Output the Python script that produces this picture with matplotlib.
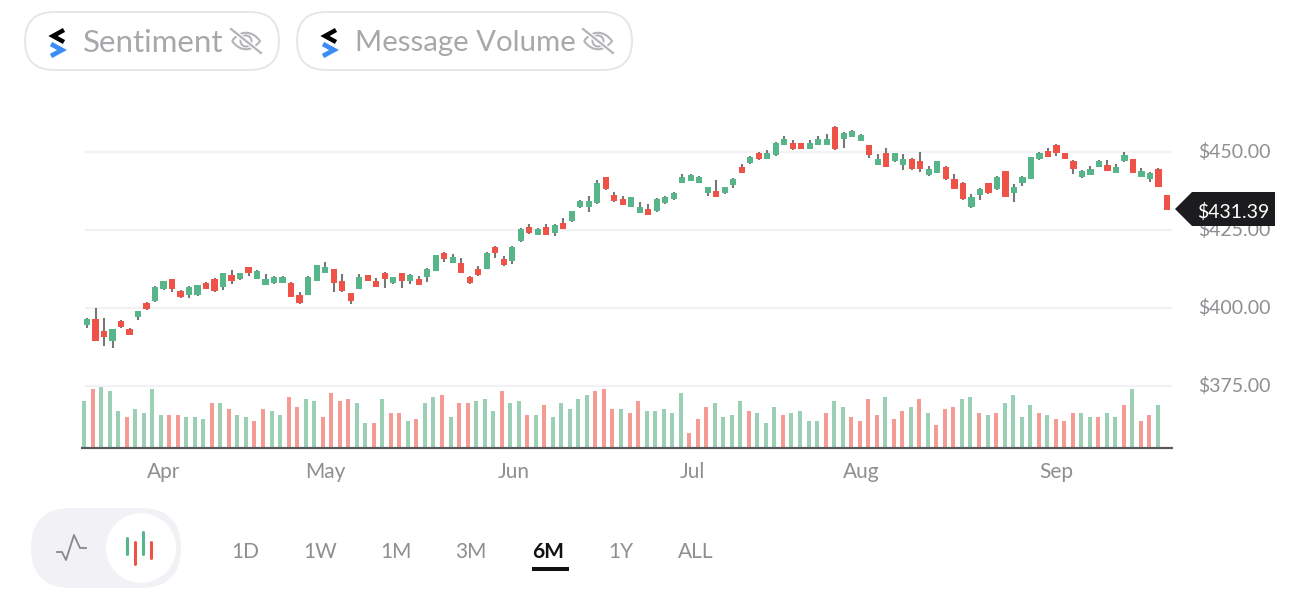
import numpy as np
import matplotlib
matplotlib.use("Agg")
import matplotlib.pyplot as plt
from matplotlib.patches import FancyBboxPatch, Circle, Polygon, PathPatch
from matplotlib.path import Path
from matplotlib.transforms import ScaledTranslation

plt.rcParams["font.family"] = ["Lato", "DejaVu Sans"]

# daily candles, oldest first
opens = [394.6,396.5,392.6,389.4,395.8,393.3,397.1,401.6,402.2,406.1,409.3,405.5,404.2,404.2,408.0,409.3,
         406.7,410.6,409.3,413.1,409.3,407.4,408.0,408.0,408.0,404.2,404.2,408.7,411.2,412.5,408.7,404.8,
         406.1,410.6,408.7,411.2,408.0,411.2,408.7,409.3,409.9,411.9,417.6,414.4,414.4,409.9,412.5,412.5,
         419.6,415.7,415.1,421.5,426.0,423.4,426.0,424.0,427.2,427.9,432.4,432.4,433.7,442.0,436.2,434.9,
         432.4,430.4,431.7,431.1,433.7,434.9,440.1,440.7,440.1,436.9,437.5,436.9,439.4,445.2,446.5,449.7,
         447.8,449.0,452.2,452.9,452.9,451.0,452.2,452.2,458.0,454.2,454.8,453.5,452.2,445.8,449.7,447.1,
         445.8,447.8,447.1,442.6,443.3,445.2,441.3,440.1,432.4,436.2,440.1,438.1,443.9,436.9,440.1,441.3,
         447.8,450.3,452.2,449.7,447.1,442.0,442.6,445.2,445.8,443.3,447.1,447.8,442.0,441.3,444.6,436.2]
highs = [396.8,400.0,396.8,393.3,396.2,393.6,399.0,401.9,407.1,408.7,409.3,405.8,407.1,407.4,408.3,409.6,
         411.2,412.2,411.2,413.1,412.2,410.9,410.3,410.3,408.3,405.1,410.3,413.8,414.7,412.5,410.9,404.8,
         410.9,410.6,409.6,411.5,409.9,411.2,410.9,410.3,412.8,417.0,418.0,417.3,416.0,410.3,413.5,418.0,
         419.9,416.7,419.9,425.6,426.9,425.6,426.9,426.9,428.8,431.1,434.6,435.9,441.0,442.0,437.2,435.9,
         435.6,434.0,433.3,435.3,435.9,437.2,442.9,442.9,442.3,438.8,441.0,438.8,441.7,446.2,448.7,450.0,
         450.6,453.2,455.1,453.8,452.9,453.8,455.1,455.8,458.3,456.4,457.1,455.8,452.2,449.4,451.3,449.7,
         449.4,448.1,450.0,445.5,447.1,445.5,442.9,440.4,436.5,438.5,440.1,442.3,443.9,439.7,442.3,448.4,
         450.0,451.3,452.6,449.7,447.4,444.2,445.5,447.4,447.4,446.2,450.0,447.8,444.9,443.6,444.9,436.2]
lows = [393.6,389.4,387.8,387.2,393.6,391.3,396.2,399.4,401.9,405.8,405.1,403.2,403.2,403.8,406.1,405.1,
        405.8,407.7,409.0,410.3,409.3,407.4,407.7,408.0,403.5,401.3,404.2,408.7,411.2,405.1,405.1,401.3,
        406.1,408.7,406.7,406.4,407.7,406.4,407.7,407.4,408.3,411.9,414.7,414.4,411.2,407.7,410.3,412.5,
        416.0,413.5,414.1,421.2,423.7,423.4,423.4,423.1,425.3,427.6,432.1,430.8,433.3,437.8,434.0,433.0,
        432.4,430.4,429.8,430.8,433.3,434.6,440.1,440.7,440.1,435.9,435.6,436.5,438.5,443.3,446.2,447.4,
        447.8,448.7,452.2,450.6,451.0,451.0,452.2,452.2,450.6,451.3,454.8,453.5,448.1,445.8,445.2,446.8,
        444.2,444.2,443.6,442.3,443.3,441.0,438.1,434.6,432.1,434.6,436.5,437.8,435.6,434.0,439.1,441.3,
        447.4,448.4,448.7,447.8,442.9,441.7,442.6,445.2,443.9,443.3,446.8,443.3,442.0,440.4,438.8,431.39]
closes = [396.5,389.4,390.7,393.3,393.9,391.3,399.0,399.7,406.7,408.7,406.1,403.5,406.7,407.4,406.1,405.5,
          411.2,408.7,411.2,411.2,411.9,409.3,409.9,409.9,403.5,401.6,409.9,413.8,413.1,408.0,405.5,402.2,
          409.9,408.7,406.7,409.3,409.9,408.7,410.6,407.4,412.5,417.0,415.7,416.3,411.2,408.0,410.6,417.6,
          417.6,413.8,419.6,425.3,424.0,425.3,423.4,426.6,425.3,431.1,434.3,434.3,440.1,438.1,434.3,433.0,
          435.6,432.4,429.8,434.9,435.6,436.9,442.0,442.6,442.0,438.8,435.6,438.8,441.3,443.3,448.4,447.8,
          449.7,452.9,454.2,451.0,451.0,452.9,454.2,454.2,451.0,456.1,456.7,455.4,449.0,447.8,445.2,449.7,
          447.8,444.6,444.6,444.6,447.1,441.3,438.1,434.9,435.6,438.1,436.9,442.0,435.6,438.8,442.0,448.4,
          449.7,448.4,449.7,447.8,444.6,443.9,444.6,447.1,443.9,445.2,449.0,443.3,443.9,443.3,438.8,431.39]

# relative volume, one bar short of the candles like the reference
volume = [47,59,63,57,37,31,39,35,59,33,33,33,31,31,29,45,45,39,33,31,27,39,37,33,51,41,49,47,31,55,47,49,
          45,25,25,49,35,35,27,29,45,51,53,31,45,45,47,49,37,57,45,47,33,33,43,31,45,39,49,53,57,59,39,39,35,
          47,37,37,39,35,55,15,29,41,45,31,33,47,37,35,25,41,33,35,37,27,27,35,47,41,31,27,49,33,51,29,37,41,
          49,35,23,39,41,49,51,35,33,35,45,53,31,43,35,33,29,27,35,35,31,31,35,31,43,59,27,33,43]
volume_up = "grgggrggggrrgggrgrggrrggrrggrrrrggrgrrgrggrgrrgggrggrgrgggggrrrg" \
            "rrgggggrrrggggrggg" "rgggg" "rggrrrrgrrgrgrrrggrgrggggrgrrrggrggrgrr"
months = ["Apr", "May", "Jun", "Jul", "Aug", "Sep"]
month_sessions = [9, 28, 50.2, 71.2, 91, 114]
price_ticks = [450, 425, 400, 375]
last_price = 431.39
ranges = ["1D", "1W", "1M", "3M", "6M", "1Y", "ALL"]

GREEN, RED = "#57b58a", "#ef5347"
VOL_GREEN, VOL_RED = "#9bd0b5", "#f49b93"
GREY = "#8e8e93"
W, H = 1310, 600

fig = plt.figure(figsize=(W / 100, H / 100), dpi=100, facecolor="white")
rect = [82 / W, 1 - 448 / H, (1172 - 82) / W, (448 - 100) / H]
ax = fig.add_axes(rect)
ax_vol = ax.twinx()
ax_vol.set_zorder(ax.get_zorder() - 1)
ax.patch.set_visible(False)

opens, highs, lows, closes = map(np.array, (opens, highs, lows, closes))
sessions = np.arange(len(closes))
px = (1167 - 87) / (len(closes) - 1)  # pixels per session
ax.set_xlim(-5 / px, (1172 - 87) / px)
ax.set_ylim(355.1, 466.67)
ax_vol.set_ylim(0, 348)

# grid
ax.hlines(price_ticks, -2 / px, (1172 - 87) / px, color="#f2f2f6", lw=1.6, zorder=1)

# candles
up = closes >= opens
ax.vlines(sessions, lows, highs, color="#777777", lw=1.5, zorder=2)
ax.bar(sessions, np.abs(closes - opens), bottom=np.minimum(opens, closes), width=6.2 / px,
       color=[GREEN if u else RED for u in up], zorder=3)

# volume
vol_x = np.linspace(-3 / px, (1158 - 87) / px, len(volume))
ax_vol.bar(vol_x, volume, width=4 / px, color=[VOL_GREEN if c == "g" else VOL_RED for c in volume_up])
ax_vol.set_yticks([])

ax.yaxis.tick_right()
ax.set_yticks(price_ticks)
ax.set_yticklabels([f"${p:.2f}" for p in price_ticks], fontsize=14, color=GREY, va="center")
# labels sit a little above their grid lines
nudge = ScaledTranslation(0, 2 / 100, fig.dpi_scale_trans)
for label in ax.get_yticklabels():
    label.set_transform(label.get_transform() + nudge)
ax.tick_params(axis="y", length=0, pad=18.5)
ax.set_xticks(month_sessions)
ax.set_xticklabels(months, fontsize=15, color=GREY)
ax.tick_params(axis="x", length=0, pad=10)
for a in (ax, ax_vol):
    for side in ("top", "left", "right"):
        a.spines[side].set_visible(False)
    a.spines["bottom"].set_color("#58585c")
    a.spines["bottom"].set_linewidth(1.5)

# interface pieces, in pixels
ui = fig.add_axes([0, 0, 1, 1], zorder=10)
ui.set_xlim(0, W)
ui.set_ylim(H, 0)
ui.axis("off")


def pill(x0, y0, x1, y1, face, edge):
    r = (y1 - y0) / 2
    ui.add_patch(FancyBboxPatch((x0 + r, y0 + r), x1 - x0 - 2 * r, 0, boxstyle=f"round,pad={r}",
                                fc=face, ec=edge, lw=1.4))


def logo(x):
    ui.plot([x + 14, x + 3, x + 14], [30, 36, 42], color="black", lw=3.2, solid_joinstyle="miter", solid_capstyle="butt")
    ui.plot([x + 1, x + 12, x + 1], [44, 50, 56], color="#3b8cf5", lw=3.4, solid_joinstyle="miter", solid_capstyle="butt")


def eye(cx, cy):
    c = "#b4b4b8"
    verts = [(cx - 14, cy), (cx - 6, cy - 11), (cx + 6, cy - 11), (cx + 14, cy),
             (cx + 6, cy + 11), (cx - 6, cy + 11), (cx - 14, cy)]
    codes = [Path.MOVETO, Path.CURVE4, Path.CURVE4, Path.CURVE4, Path.CURVE4, Path.CURVE4, Path.CURVE4]
    ui.add_patch(PathPatch(Path(verts, codes), fc="none", ec=c, lw=1.5))
    ui.add_patch(Circle((cx, cy), 5.5, fc="none", ec=c, lw=1.5))
    ui.plot([cx - 15, cx + 15], [cy - 12, cy + 12], color="white", lw=3.5)
    ui.plot([cx - 15, cx + 15], [cy - 12, cy + 12], color=c, lw=1.6)


pill(25, 12, 279, 70, "white", "#e6e6ea")
pill(297, 12, 632, 70, "white", "#e6e6ea")
logo(50)
logo(322)
ui.text(83, 43, "Sentiment", fontsize=22.5, color="#a8a8ac", va="center", ha="left")
ui.text(355, 43, "Message Volume", fontsize=21.2, color="#a8a8ac", va="center", ha="left")
eye(246, 41)
eye(598, 41)

# last price flag
ui.add_patch(Polygon([(1175, 209), (1192, 192), (1275, 192), (1275, 226), (1192, 226)], fc="#1c1c1e", ec="none"))
ui.text(1233.5, 212.5, f"${last_price:.2f}", fontsize=14, color="white", ha="center", va="center")

# chart type toggle
pill(32, 509, 180, 587, "#f1f1f6", "#f1f1f6")
ui.add_patch(Circle((141, 548), 35, fc="white", ec="none"))
ui.plot([57, 62, 66, 74, 80, 86], [552, 552, 560, 535, 548, 548], color="#88888c", lw=1.3)
for x, y0, y1, c in [(127, 538, 554, GREEN), (135, 542, 564, RED), (143, 532, 554, GREEN), (151, 542, 558, RED)]:
    ui.plot([x, x], [y0, y1], color=c, lw=2.2, solid_capstyle="round")

# range buttons
for label, x in zip(ranges, [245, 320, 396, 471, 548, 621, 696]):
    active = label == "6M"
    ui.text(x, 552.5, label, fontsize=15, ha="center", va="center", fontweight="bold" if active else "normal",
            color="#111111" if active else GREY)
ui.plot([532, 569], [569, 569], color="#111111", lw=2.9, solid_capstyle="butt")

fig.savefig("out.png", dpi=100)
